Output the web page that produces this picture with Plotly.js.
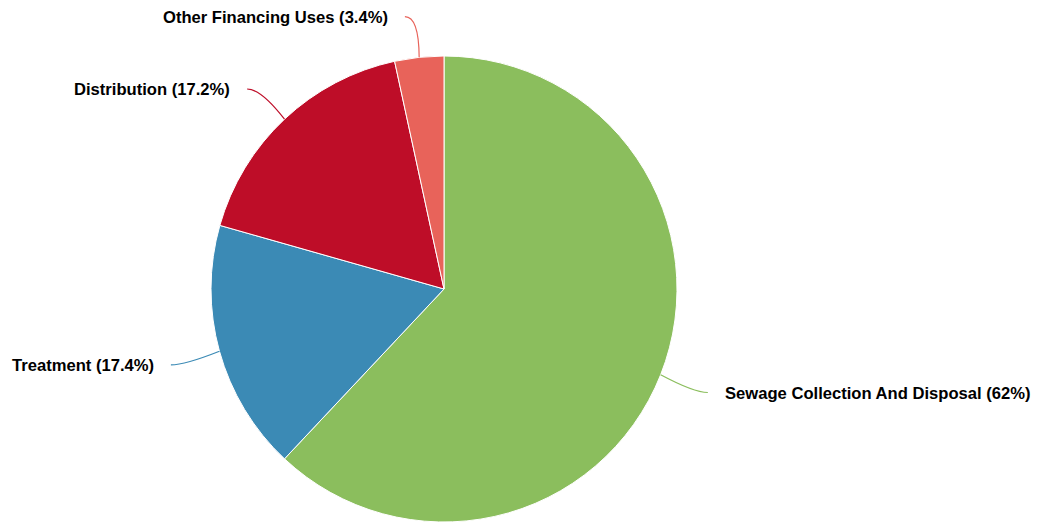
<!DOCTYPE html>
<html>
<head>
<meta charset="utf-8">
<script src="https://cdn.plot.ly/plotly-3.0.1.min.js"></script>
<style>html,body{margin:0;padding:0;background:#fff;}#chart{width:1038px;height:523px;}</style>
</head>
<body>
<div id="chart"></div>
<script>
// Data
const categories = ["Sewage Collection And Disposal", "Treatment", "Distribution", "Other Financing Uses"];
const shares = [62, 17.4, 17.2, 3.4];
const colors = ["#8bbe5d", "#3b8ab5", "#be0d28", "#e8635a"];

// Layout geometry (pixels)
const W = 1038, H = 523;
const CX = 444, CY = 289, R = 233;

const total = shares.reduce((a, b) => a + b, 0);
const shapes = [];
const annotations = [];
let cum = 0;
shares.forEach((v, i) => {
  const mid = (cum + v / 2) / total * 2 * Math.PI; // clockwise from top
  cum += v;
  const s = Math.sin(mid), c = Math.cos(mid);
  const right = s >= 0;
  const sign = right ? 1 : -1;
  const p0x = CX + R * s, p0y = CY - R * c;
  const d = 40;
  const p1x = CX + (R + d) * s + sign * 10;
  const p1y = CY - (R + d) * c + (c < 0 ? 3 : -1);
  const ctrlx = p1x - sign * 14, ctrly = p1y;
  shapes.push({
    type: "path", xref: "x", yref: "y",
    path: `M ${p0x} ${p0y} Q ${ctrlx} ${ctrly} ${p1x} ${p1y}`,
    line: {color: colors[i], width: 1.2}
  });
  const pct = Math.round(v / total * 1000) / 10;
  annotations.push({
    xref: "x", yref: "y", x: p1x + sign * 15, y: p1y + 1,
    xanchor: right ? "left" : "right", yanchor: "middle",
    text: `<b>${categories[i]} (${pct}%)</b>`, showarrow: false,
    font: {family: "Liberation Sans, Arial, sans-serif", size: 16.6, color: "#000"}
  });
});

const data = [{
  type: "pie",
  labels: categories,
  values: shares,
  sort: false,
  direction: "clockwise",
  rotation: 0,
  textinfo: "none",
  hoverinfo: "label+percent",
  marker: {colors: colors, line: {color: "#ffffff", width: 1}},
  domain: {x: [(CX - R) / W, (CX + R) / W], y: [(H - CY - R) / H, (H - CY + R) / H]},
  showlegend: false
}];

const layout = {
  width: W, height: H,
  margin: {l: 0, r: 0, t: 0, b: 0},
  paper_bgcolor: "#fff", plot_bgcolor: "rgba(0,0,0,0)",
  xaxis: {range: [0, W], visible: false, fixedrange: true},
  yaxis: {range: [H, 0], visible: false, fixedrange: true},
  shapes: shapes,
  annotations: annotations,
  showlegend: false
};

Plotly.newPlot("chart", data, layout, {displayModeBar: false, staticPlot: true});
</script>
</body>
</html>
